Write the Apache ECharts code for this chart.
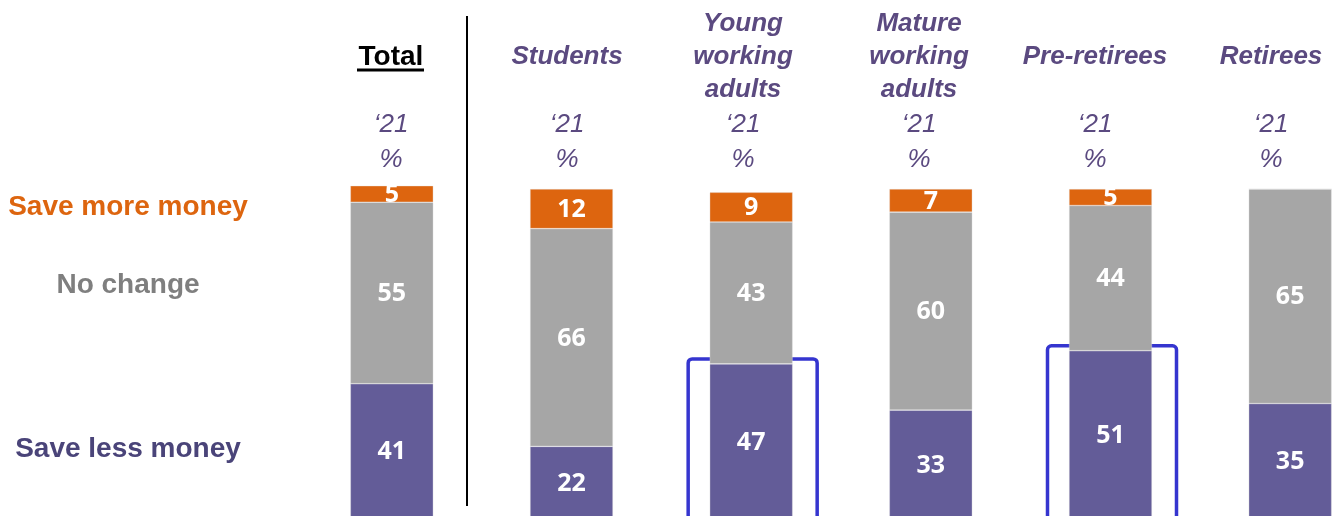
<!DOCTYPE html>
<html>
<head>
<meta charset="utf-8">
<style>
  html, body { margin: 0; padding: 0; background: #ffffff; }
  #chart { width: 1333px; height: 516px; }
</style>
<script src="https://cdn.jsdelivr.net/npm/echarts@6/dist/echarts.min.js"></script>
</head>
<body>
<div id="chart"></div>
<script>
// Segments and their values per group (percent, 2021)
const categories = ['Total', 'Students', 'Young\nworking\nadults', 'Mature\nworking\nadults', 'Pre-retirees', 'Retirees'];
const saveMore = [5, 12, 9, 7, 5, 0];
const noChange = [55, 66, 43, 60, 44, 65];
const saveLess = [41, 22, 47, 33, 51, 35];
const seriesNames = ['Save more money', 'No change', 'Save less money'];
const periodLabel = '\u201821';
const unitLabel = '%';
const highlighted = [2, 4]; // groups with an outlined "save less" segment

const COLORS = { more: '#DD650F', none: '#A6A6A6', less: '#635C98' };
const HEAD = '#5B4A80';
const FONT = 'Arial, "Liberation Sans", sans-serif';

const chart = echarts.init(document.getElementById('chart'), null, { renderer: 'canvas' });

const valueLabel = {
  show: true,
  position: 'inside',
  color: '#ffffff',
  fontFamily: '"Noto Sans", "Open Sans", sans-serif',
  fontWeight: 'bold',
  fontSize: 25,
  offset: [0, 1],
  formatter: p => (p.value > 0 ? String(p.value) : '')
};

function barSeries(name, data, color) {
  return {
    name, type: 'bar', stack: 'share', data,
    xAxisIndex: 0, yAxisIndex: 0,
    barWidth: 83, clip: false,
    itemStyle: { color, borderColor: 'rgba(230,230,230,0.6)', borderWidth: 0.6 },
    label: valueLabel,
    emphasis: { disabled: true },
    silent: true
  };
}

chart.setOption({
  animation: false,
  backgroundColor: '#ffffff',
  grid: [
    // bars
    { left: 302, width: 1078, top: 189, height: 330, outerBoundsMode: 'none', containLabel: false },
    // column headings (slightly tighter spacing than the bars)
    { left: 303, width: 1056, top: 189, height: 330, outerBoundsMode: 'none', containLabel: false }
  ],
  xAxis: [
    {
      type: 'category', data: categories, gridIndex: 0, position: 'bottom',
      axisLine: { show: false }, axisTick: { show: false }, axisLabel: { show: false }
    },
    {
      type: 'category', data: categories, gridIndex: 1, position: 'top',
      axisLine: { show: false }, axisTick: { show: false },
      axisLabel: {
        interval: 0, margin: 132, verticalAlign: 'middle',
        formatter: (v, i) => (i === 0 ? '{tot|' + v + '}' : v.split('\n').map(s => '{cat|' + s + '}').join('\n')),
        rich: {
          tot: { fontFamily: FONT, fontWeight: 'bold', fontSize: 28, color: '#000000', lineHeight: 33 },
          cat: { fontFamily: FONT, fontWeight: 'bold', fontStyle: 'italic', fontSize: 26, color: HEAD, lineHeight: 33 }
        }
      }
    },
    {
      type: 'category', data: categories, gridIndex: 1, position: 'top',
      axisLine: { show: false }, axisTick: { show: false },
      axisLabel: {
        interval: 0, margin: 47, verticalAlign: 'middle',
        formatter: () => periodLabel + '\n' + unitLabel,
        fontFamily: FONT, fontStyle: 'italic', fontSize: 26, color: HEAD, lineHeight: 35
      }
    }
  ],
  yAxis: [
    { type: 'value', gridIndex: 0, min: 0, max: 100, show: false },
    { type: 'value', gridIndex: 1, min: 0, max: 100, show: false }
  ],
  series: [
    barSeries(seriesNames[2], saveLess, COLORS.less),
    barSeries(seriesNames[1], noChange, COLORS.none),
    barSeries(seriesNames[0], saveMore, COLORS.more)
  ]
});

// Annotations: row labels, divider, underline under "Total", outline boxes
const graphics = [];
const rowLabels = [
  { text: seriesNames[0], y: 207, color: '#DD650F' },
  { text: seriesNames[1], y: 285, color: '#7F7F7F' },
  { text: seriesNames[2], y: 449, color: '#4A4479' }
];
rowLabels.forEach(r => graphics.push({
  type: 'text', x: 128, y: r.y, silent: true,
  style: { text: r.text, fill: r.color, font: 'bold 28px ' + FONT, textAlign: 'center', textVerticalAlign: 'middle' }
}));

const totalX = chart.convertToPixel({ xAxisIndex: 1 }, 0);
graphics.push({
  type: 'line', silent: true,
  shape: { x1: totalX - 34, y1: 70, x2: totalX + 33, y2: 70 },
  style: { stroke: '#000000', lineWidth: 3 }
});
graphics.push({
  type: 'line', silent: true,
  shape: { x1: 467, y1: 16, x2: 467, y2: 506 },
  style: { stroke: '#000000', lineWidth: 2 }
});

highlighted.forEach(i => {
  const [cx, yTop] = chart.convertToPixel({ seriesIndex: 0 }, [i, saveLess[i]]);
  graphics.push({
    type: 'rect', silent: true,
    shape: { x: cx - 63, y: yTop - 5, width: 129, height: 540 - yTop, r: 4 },
    style: { fill: 'none', stroke: '#3535CF', lineWidth: 3.5 }
  });
});

chart.setOption({ graphic: graphics });
</script>
</body>
</html>
